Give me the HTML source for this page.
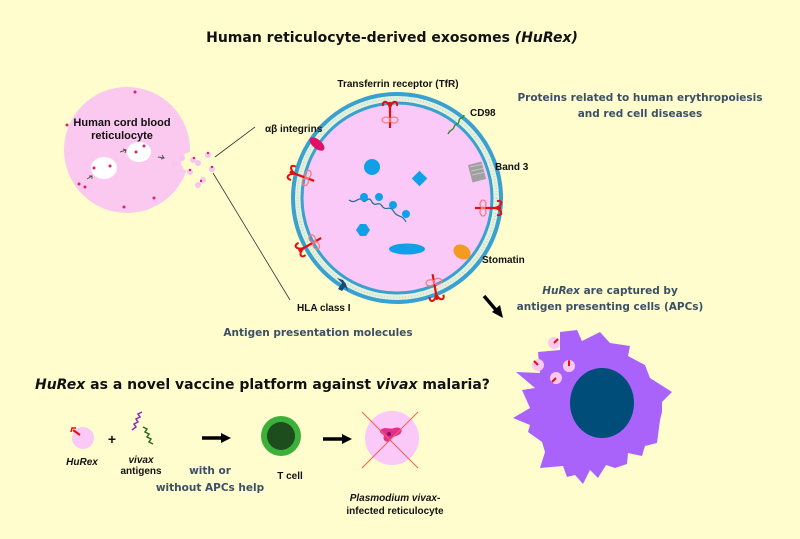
<!DOCTYPE html>
<html><head><meta charset="utf-8"><style>
html,body{margin:0;padding:0;background:#FFFDCD;}
svg{display:block}
.b{font-family:"Liberation Sans",sans-serif;font-weight:bold;fill:#111;}
.s{font-family:"DejaVu Sans","Liberation Sans",sans-serif;font-weight:bold;fill:#3b4f66;}
</style></head><body>
<svg width="800" height="539" viewBox="0 0 800 539" xmlns="http://www.w3.org/2000/svg">
<defs>
<g id="tfr">
 <line x1="0" y1="-12" x2="0" y2="14" stroke="#e01010" stroke-width="2.2"/>
 <path d="M0,-6 C-2,-14 -8,-14 -7,-8 M0,-6 C2,-14 8,-14 7,-8" fill="none" stroke="#e01010" stroke-width="2"/>
 <ellipse cx="-4" cy="6" rx="4" ry="3" fill="none" stroke="#f08080" stroke-width="1.3"/>
 <ellipse cx="4" cy="6" rx="4" ry="3" fill="none" stroke="#f08080" stroke-width="1.3"/>
</g>
<g id="mini"><circle r="6" fill="#fbc9f0"/><line x1="0" y1="0" x2="-4" y2="-4" stroke="#e01010" stroke-width="2"/></g>
</defs>
<rect width="800" height="539" fill="#FFFDCD"/>

<text x="392" y="42" text-anchor="middle" class="b" style="font-size:14px;font-family:'DejaVu Sans','Liberation Sans',sans-serif">Human reticulocyte-derived exosomes <tspan font-style="italic">(HuRex)</tspan></text>

<!-- left cell -->
<circle cx="127" cy="150" r="63" fill="#fbc9f0"/>
<circle cx="191" cy="162" r="10" fill="#FFFDCD"/>
<ellipse cx="104" cy="168" rx="13" ry="11" fill="#fff"/>
<ellipse cx="139" cy="152" rx="12" ry="10" fill="#fff"/>
<text x="122" y="126" text-anchor="middle" class="b" style="font-size:11px">Human cord blood</text>
<text x="122" y="139" text-anchor="middle" class="b" style="font-size:11px">reticulocyte</text>
<g fill="#e0206a"><circle cx="135" cy="92" r="1.5"/><circle cx="67" cy="125" r="1.5"/><circle cx="79" cy="184" r="1.5"/><circle cx="85" cy="187" r="1.5"/><circle cx="154" cy="198" r="1.5"/><circle cx="124" cy="207" r="1.5"/><circle cx="144" cy="146" r="1.5"/><circle cx="136" cy="152" r="1.5"/><circle cx="110" cy="166" r="1.5"/><circle cx="94" cy="168" r="1.5"/></g>
<g stroke="#555" stroke-width="1" fill="none"><path d="M87,179 l5,-3 M89,176 l3,0 l0,3"/><path d="M120,152 l6,-2 M123,149 l3,1 l-1,3"/><path d="M158,157 l6,1 M162,155 l2,3 l-3,1"/></g>
<g fill="#f3c5f0"><circle cx="174" cy="164" r="3"/><circle cx="182" cy="158" r="3"/><circle cx="193" cy="160" r="3"/><circle cx="198" cy="163" r="3"/><circle cx="190" cy="172" r="3"/><circle cx="203" cy="180" r="3"/><circle cx="198" cy="185" r="3"/><circle cx="208" cy="155" r="3"/><circle cx="212" cy="169" r="3"/></g>
<g fill="#e0206a"><circle cx="194" cy="158" r="1.2"/><circle cx="208" cy="153" r="1.2"/><circle cx="190" cy="170" r="1.2"/><circle cx="212" cy="167" r="1.2"/><circle cx="201" cy="181" r="1.2"/></g>
<line x1="215" y1="157" x2="255" y2="127" stroke="#333" stroke-width="0.8"/>
<line x1="213" y1="173" x2="290" y2="300" stroke="#333" stroke-width="0.8"/>

<!-- exosome -->
<circle cx="397" cy="198" r="104" fill="#e4f1dc" stroke="#3aa0d0" stroke-width="4"/>
<circle cx="397" cy="198" r="95" fill="#fbc9f8" stroke="#3aa0d0" stroke-width="3"/>
<circle cx="397" cy="198" r="99.5" fill="none" stroke="#c9dfc9" stroke-width="2" stroke-dasharray="1 2"/>
<circle cx="372" cy="167" r="8" fill="#0fa0e8"/>
<rect x="414" y="173" width="11" height="11" fill="#0fa0e8" transform="rotate(45 419.5 178.5)"/>
<polygon points="356,230 360,224 366,224 370,230 366,236 360,236" fill="#0fa0e8"/>
<ellipse cx="407" cy="249" rx="18" ry="5.5" fill="#0fa0e8"/>
<path d="M349,200 C356,205 358,196 362,200 C366,205 368,194 372,202 C376,208 378,200 382,206 C386,212 390,204 394,212 C398,218 402,214 406,222" fill="none" stroke="#1f6aa0" stroke-width="1.2"/>
<g fill="#0fa0e8"><circle cx="364" cy="197" r="4"/><circle cx="379" cy="197" r="4"/><circle cx="393" cy="205" r="4"/><circle cx="406" cy="214" r="4"/></g>
<!-- proteins -->
<use href="#tfr" transform="translate(390,114)"/>
<use href="#tfr" transform="translate(301,176) rotate(-70)"/>
<use href="#tfr" transform="translate(309,245) rotate(-120)"/>
<use href="#tfr" transform="translate(435,288) rotate(170)"/>
<use href="#tfr" transform="translate(489,208) rotate(90)"/>
<ellipse cx="317" cy="144" rx="9" ry="4.5" fill="#e0106a" transform="rotate(40 317 144)"/>
<path d="M448,134 c2,-5 5,-3 6,-7 c1,-4 5,-2 5,-6 c0,-4 5,-2 5,-6" fill="none" stroke="#2a8a2a" stroke-width="1.3"/>
<rect x="470" y="163" width="14" height="18" fill="#a0a0a0" transform="rotate(-15 477 172)"/>
<g stroke="#d0d0d0" stroke-width="0.8"><line x1="470" y1="167" x2="484" y2="164"/><line x1="471" y1="171" x2="485" y2="168"/><line x1="472" y1="175" x2="486" y2="172"/></g>
<ellipse cx="462" cy="252" rx="9" ry="7" fill="#f39a20" transform="rotate(30 462 252)"/>
<path d="M337,278 l5,5 l-4,6 l4,2 l3,-4 l3,4 l-2,-7 l-3,-4 z" fill="#1a4a7a"/>

<g class="b" style="font-size:10px">
<text x="398" y="87" text-anchor="middle">Transferrin receptor (TfR)</text>
<text x="470" y="116">CD98</text>
<text x="495" y="170">Band 3</text>
<text x="482" y="263">Stomatin</text>
<text x="297" y="311">HLA class I</text>
<text x="265" y="132">αβ integrins</text>
</g>
<g class="s" style="font-size:10.5px" text-anchor="middle">
<text x="640" y="101">Proteins related to human erythropoiesis</text>
<text x="640" y="117">and red cell diseases</text>
<text x="318" y="336">Antigen presentation molecules</text>
<text x="610" y="294"><tspan font-style="italic">HuRex</tspan> are captured by</text>
<text x="610" y="310">antigen presenting cells (APCs)</text>
<text x="210" y="474">with or</text>
<text x="210" y="491">without APCs help</text>
</g>
<line x1="484" y1="296" x2="496" y2="310" stroke="#000" stroke-width="3.5"/>
<polygon points="492,312 503,318 500,305" fill="#000"/>

<!-- APC -->
<polygon points="560,332 577,330 582,341 600,332 610,343 630,346 628,356 645,365 650,378 672,392 662,402 662,412 660,420 657,443 645,446 642,456 628,453 627,464 615,468 606,465 598,478 590,470 583,484 575,475 567,477 563,466 540,468 545,452 542,442 528,432 530,425 513,418 530,408 522,390 535,388 516,372 540,373 538,352 560,350" fill="#a963fb"/>
<ellipse cx="602" cy="403" rx="32" ry="35" fill="#004d7a"/>
<use href="#mini" transform="translate(554,343) rotate(90)"/>
<use href="#mini" transform="translate(538,365)"/>
<use href="#mini" transform="translate(569,366) rotate(45)"/>
<use href="#mini" transform="translate(556,378) rotate(-90)"/>

<text x="35" y="389" class="b" style="font-size:14px;font-family:'DejaVu Sans','Liberation Sans',sans-serif"><tspan font-style="italic">HuRex</tspan> as a novel vaccine platform against <tspan font-style="italic">vivax</tspan> malaria?</text>

<!-- bottom row -->
<circle cx="83" cy="438" r="11" fill="#fbc9f8"/>
<line x1="80" y1="435" x2="73" y2="430" stroke="#e01010" stroke-width="2"/>
<path d="M71,432 l1,-4 l4,0" fill="none" stroke="#e01010" stroke-width="1.5"/>
<text x="82" y="465" text-anchor="middle" class="b" style="font-size:10px;font-style:italic">HuRex</text>
<text x="112" y="444" text-anchor="middle" class="b" style="font-size:14px">+</text>
<path d="M132,430 l4,-3 l-2,-3 l4,-2 l-2,-3 l4,-2 l-2,-3 l4,-2" fill="none" stroke="#8a2ab0" stroke-width="1.5"/>
<path d="M143,427 l4,2 l-2,3 l4,2 l-2,3 l4,2 l-2,3 l4,2" fill="none" stroke="#2a6a2a" stroke-width="1.5"/>
<text x="141" y="463" text-anchor="middle" class="b" style="font-size:10px;font-style:italic">vivax</text>
<text x="141" y="474" text-anchor="middle" class="b" style="font-size:10px">antigens</text>
<line x1="202" y1="438" x2="222" y2="438" stroke="#000" stroke-width="3.5"/>
<polygon points="221,433 231,438 221,443" fill="#000"/>
<circle cx="281" cy="436" r="20" fill="#3bb03b"/>
<circle cx="281" cy="436" r="14" fill="#1d4d1d"/>
<text x="290" y="479" text-anchor="middle" class="b" style="font-size:10px">T cell</text>
<line x1="323" y1="439" x2="343" y2="439" stroke="#000" stroke-width="3.5"/>
<polygon points="342,434 352,439 342,444" fill="#000"/>
<circle cx="392" cy="438" r="27" fill="#fbc9f8"/>
<path d="M380,430 c6,-4 10,0 14,-2 c6,-2 10,2 6,6 c-4,3 -8,2 -10,6 c-3,4 -8,0 -6,-4 c-1,-2 -5,-3 -4,-6z" fill="#e0308a"/>
<circle cx="389" cy="434" r="2" fill="#8a1060"/>
<g stroke="#f06060" stroke-width="1"><line x1="362" y1="412" x2="418" y2="468"/><line x1="418" y1="412" x2="362" y2="468"/></g>
<text x="395" y="501" text-anchor="middle" class="b" style="font-size:10px;font-style:italic">Plasmodium vivax<tspan font-style="normal">-</tspan></text>
<text x="395" y="514" text-anchor="middle" class="b" style="font-size:10px">infected reticulocyte</text>
</svg>
</body></html>
